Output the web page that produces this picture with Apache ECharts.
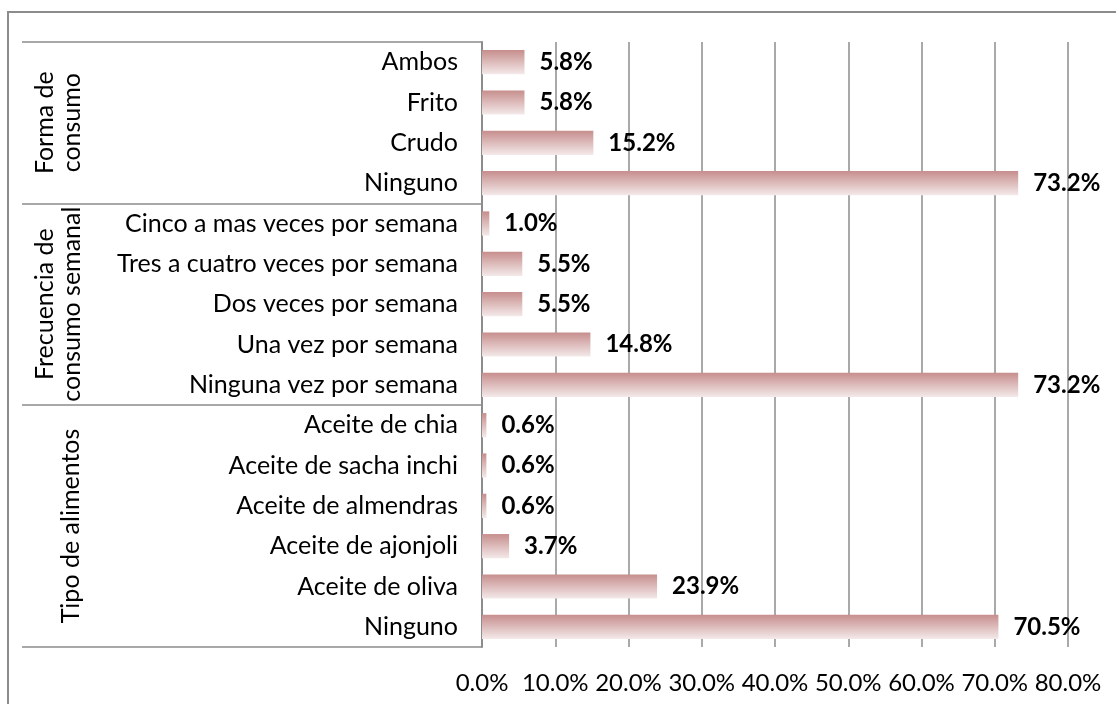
<!DOCTYPE html>
<html>
<head>
<meta charset="utf-8">
<script src="https://cdn.jsdelivr.net/npm/echarts@6/dist/echarts.min.js"></script>
<style>
html,body{margin:0;padding:0;background:#fff;}
#c{width:1116px;height:704px;}
</style>
</head>
<body>
<div id="c"></div>
<script>
// Categories, top to bottom
const categories = [
  'Ambos', 'Frito', 'Crudo', 'Ninguno',
  'Cinco a mas veces por semana', 'Tres a cuatro veces por semana', 'Dos veces por semana', 'Una vez por semana', 'Ninguna vez por semana',
  'Aceite de chia', 'Aceite de sacha inchi', 'Aceite de almendras', 'Aceite de ajonjoli', 'Aceite de oliva', 'Ninguno'
];
const values = [5.8, 5.8, 15.2, 73.2, 1.0, 5.5, 5.5, 14.8, 73.2, 0.6, 0.6, 0.6, 3.7, 23.9, 70.5];
const groupNames = ['Forma de\nconsumo', 'Frecuencia de\nconsumo semanal', 'Tipo de alimentos'];
const groupStart = [0, 4, 9];
const groupEnd = [3, 8, 14];
const xTicks = [0, 10, 20, 30, 40, 50, 60, 70, 80];

const FONT = 'Lato';
const FS = 25;
const gray = '#8c8c8c';

const chart = echarts.init(document.getElementById('c'), null, {renderer: 'canvas'});
const catKeys = categories.map((c, i) => String(i));

chart.setOption({
  animation: false,
  backgroundColor: '#fff',
  textStyle: {fontFamily: FONT},
  grid: {left: 482, right: 48, top: 42, bottom: 57, containLabel: false},
  xAxis: {
    type: 'value', min: xTicks[0], max: xTicks[xTicks.length - 1], interval: 10,
    axisLine: {show: false}, axisTick: {show: false},
    splitLine: {show: true, lineStyle: {color: gray, width: 1.5}},
    axisLabel: {margin: 24, fontSize: 24, color: '#000', fontFamily: FONT,
      formatter: v => v.toFixed(1) + '%'}
  },
  yAxis: {
    type: 'category', inverse: true, data: catKeys,
    axisLine: {show: true, lineStyle: {color: gray, width: 2}},
    axisTick: {show: true, length: 460, alignWithLabel: false,
      interval: (idx) => groupStart.indexOf(idx) >= 0,
      lineStyle: {color: gray, width: 1.5}},
    axisLabel: {margin: 24, fontSize: FS, color: '#000', fontFamily: FONT,
      interval: 0, formatter: v => categories[+v]}
  },
  series: [{
    type: 'bar', data: values, barWidth: '60%',
    itemStyle: {color: new echarts.graphic.LinearGradient(0, 0, 0, 1, [
      {offset: 0, color: '#c68e8d'}, {offset: 1, color: '#f4e9e9'}])},
    label: {show: true, position: 'right', distance: 15, color: '#000',
      fontWeight: 'bold', fontSize: 24, fontFamily: FONT,
      formatter: p => p.value.toFixed(1) + '%'}
  }]
});

const gfx = [{type: 'rect', shape: {x: 8, y: 12, width: 1300, height: 900}, silent: true,
  style: {fill: null, stroke: gray, lineWidth: 2}}];
groupNames.forEach((g, i) => {
  const y0 = chart.convertToPixel({yAxisIndex: 0}, catKeys[groupStart[i]]);
  const y1 = chart.convertToPixel({yAxisIndex: 0}, catKeys[groupEnd[i]]);
  const cy = (y0 + y1) / 2;
  const twoLine = g.indexOf('\n') >= 0;
  gfx.push({type: 'text', x: twoLine ? 58 : 71, y: cy, rotation: Math.PI / 2, silent: true,
    style: {text: g, font: FS + 'px ' + FONT, fill: '#000', align: 'center', verticalAlign: 'middle', lineHeight: 27}});
});
chart.setOption({graphic: gfx});
</script>
</body>
</html>
